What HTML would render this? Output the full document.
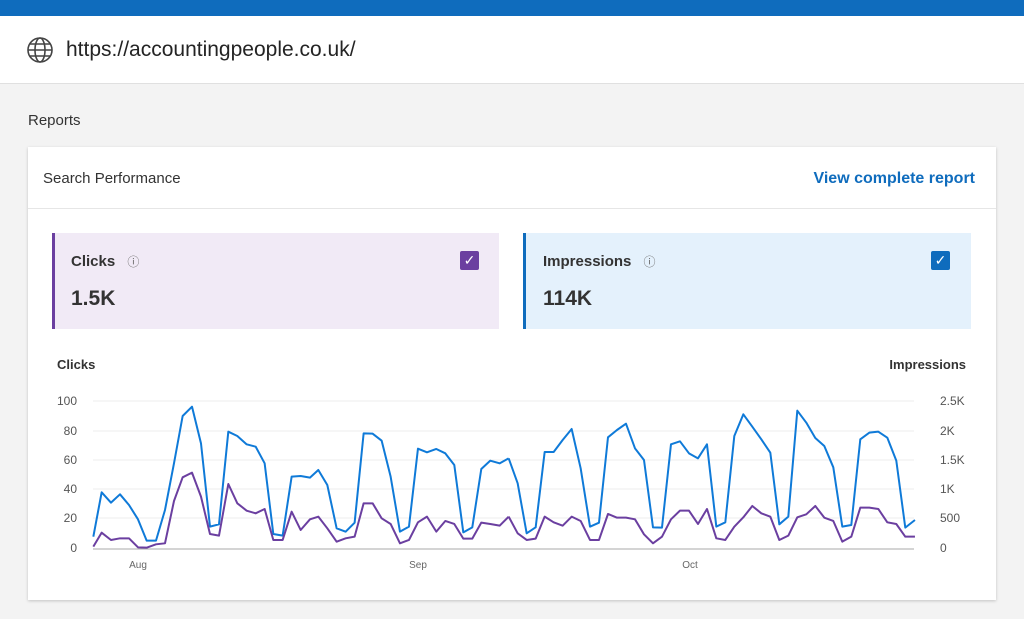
<!DOCTYPE html>
<html><head><style>
body{margin:0;width:1024px;height:619px;background:#f3f3f3;font-family:"Liberation Sans",sans-serif;position:relative;overflow:hidden;color:#242424}
.a{position:absolute}
</style></head><body>
<div class="a" style="left:0;top:0;width:1024px;height:16px;background:#0f6cbd"></div>
<div class="a" style="left:0;top:16px;width:1024px;height:67px;background:#fff;border-bottom:1px solid #e0e0e0"></div>
<svg class="a" style="left:26px;top:36px" width="28" height="28" viewBox="0 0 28 28" fill="none" stroke="#444" stroke-width="1.6"><circle cx="14" cy="14" r="12"/><ellipse cx="14" cy="14" rx="5" ry="12"/><line x1="2" y1="14" x2="26" y2="14"/><path d="M4 8h20M4 20h20"/></svg>
<div class="a" style="left:66px;top:38px;font-size:21px;color:#242424">https://accountingpeople.co.uk/</div>
<div class="a" style="left:28px;top:112px;font-size:15px;color:#333">Reports</div>
<div class="a" style="left:28px;top:147px;width:968px;height:453px;background:#fff;box-shadow:0 1px 3px rgba(0,0,0,.2)"></div>
<div class="a" style="left:43px;top:170px;font-size:15px;color:#333">Search Performance</div>
<div class="a" style="right:49px;top:170px;font-size:16px;color:#0f6cbd;font-weight:bold">View complete report</div>
<div class="a" style="left:28px;top:208px;width:968px;height:1px;background:#e6e6e6"></div>
<div class="a" style="left:52px;top:233px;width:444px;height:96px;background:#f1eaf6;border-left:3px solid #6b3fa0"></div>
<div class="a" style="left:71px;top:253px;font-size:15px;font-weight:bold;color:#333">Clicks <span style="font-weight:normal;font-size:12px;color:#666;margin-left:8px">ⓘ</span></div>
<div class="a" style="left:71px;top:287px;font-size:21px;font-weight:bold;color:#333">1.5K</div>
<div class="a" style="left:460px;top:251px;width:19px;height:19px;background:#6b3fa0;border-radius:2px;color:#fff;font-size:14px;text-align:center;line-height:19px">✓</div>
<div class="a" style="left:523px;top:233px;width:445px;height:96px;background:#e4f1fc;border-left:3px solid #0f6cbd"></div>
<div class="a" style="left:543px;top:253px;font-size:15px;font-weight:bold;color:#333">Impressions <span style="font-weight:normal;font-size:12px;color:#666;margin-left:8px">ⓘ</span></div>
<div class="a" style="left:543px;top:287px;font-size:21px;font-weight:bold;color:#333">114K</div>
<div class="a" style="left:931px;top:251px;width:19px;height:19px;background:#0f6cbd;border-radius:2px;color:#fff;font-size:14px;text-align:center;line-height:19px">✓</div>
<div class="a" style="left:57px;top:357px;font-size:13px;font-weight:bold;color:#333">Clicks</div>
<div class="a" style="right:58px;top:357px;font-size:13px;font-weight:bold;color:#333">Impressions</div>
<svg class="a" style="left:0;top:0" width="1024" height="619">
<g stroke="#eee" stroke-width="1"><line x1="93" y1="401" x2="914" y2="401"/><line x1="93" y1="431" x2="914" y2="431"/><line x1="93" y1="460" x2="914" y2="460"/><line x1="93" y1="489" x2="914" y2="489"/><line x1="93" y1="518" x2="914" y2="518"/></g>
<line x1="93" y1="549" x2="914" y2="549" stroke="#aaa" stroke-width="1"/>
<g font-size="12" fill="#555" text-anchor="end"><text x="77" y="405">100</text><text x="77" y="435">80</text><text x="77" y="464">60</text><text x="77" y="493">40</text><text x="77" y="522">20</text><text x="77" y="552">0</text></g>
<g font-size="12" fill="#555"><text x="940" y="405">2.5K</text><text x="940" y="435">2K</text><text x="940" y="464">1.5K</text><text x="940" y="493">1K</text><text x="940" y="522">500</text><text x="940" y="552">0</text></g>
<g font-size="10" fill="#666" text-anchor="middle"><text x="138" y="568">Aug</text><text x="418" y="568">Sep</text><text x="690" y="568">Oct</text></g>
<g fill="none" stroke-width="2" stroke-linejoin="round">
<g transform="translate(80,390) scale(0.3333)">
<polyline vector-effect="non-scaling-stroke" stroke="#0f7ad8" points="40,440 65,307 93,338 120,313 147,345 174,388 200,452 228,452 255,360 282,220 308,78 336,50 363,160 390,410 417,403 445,125 472,138 500,163 527,170 554,220 580,432 608,437 635,260 662,258 690,263 715,240 742,285 770,415 797,425 824,398 851,130 878,131 905,152 932,260 960,425 987,410 1014,176 1041,187 1069,177 1096,190 1123,225 1150,427 1177,412 1204,237 1231,212 1259,220 1286,205"/>
<polyline vector-effect="non-scaling-stroke" stroke="#6b3fa0" points="40,470 65,428 93,450 120,445 147,445 174,472 200,473 228,463 255,460 282,333 308,262 336,248 363,320 390,432 417,437 445,282 472,340 500,362 527,370 554,357 580,450 608,450 635,365 662,420 690,388 715,380 742,415 770,455 797,445 824,440 851,340 878,340 905,385 932,402 960,460 987,450 1014,397 1041,380 1069,425 1096,393 1123,402 1150,446 1177,446 1204,398 1231,402 1259,407 1286,380"/>
</g>
<g transform="translate(500,390) scale(0.3333)">
<polyline vector-effect="non-scaling-stroke" stroke="#0f7ad8" points="26,205 53,280 80,430 107,412 134,186 161,186 188,150 215,117 242,235 270,410 297,398 324,142 351,120 378,101 405,175 432,210 459,412 486,413 513,163 540,154 567,190 594,205 621,163 649,410 676,397 703,138 730,73 757,110 784,148 811,188 838,403 865,380 892,62 919,98 946,144 973,168 1000,232 1027,410 1054,405 1081,148 1108,128 1135,125 1162,143 1189,212 1216,413 1245,390"/>
<polyline vector-effect="non-scaling-stroke" stroke="#6b3fa0" points="26,380 53,430 80,450 107,446 134,380 161,397 188,407 215,380 242,393 270,450 297,450 324,372 351,383 378,383 405,388 432,433 459,460 486,440 513,388 540,362 567,362 594,402 621,357 649,445 676,450 703,410 730,382 757,348 784,370 811,380 838,450 865,437 892,382 919,373 946,348 973,383 1000,393 1027,455 1054,440 1081,353 1108,353 1135,357 1162,397 1189,402 1216,440 1245,440"/>
</g>
</g>
</svg>
</body></html>
